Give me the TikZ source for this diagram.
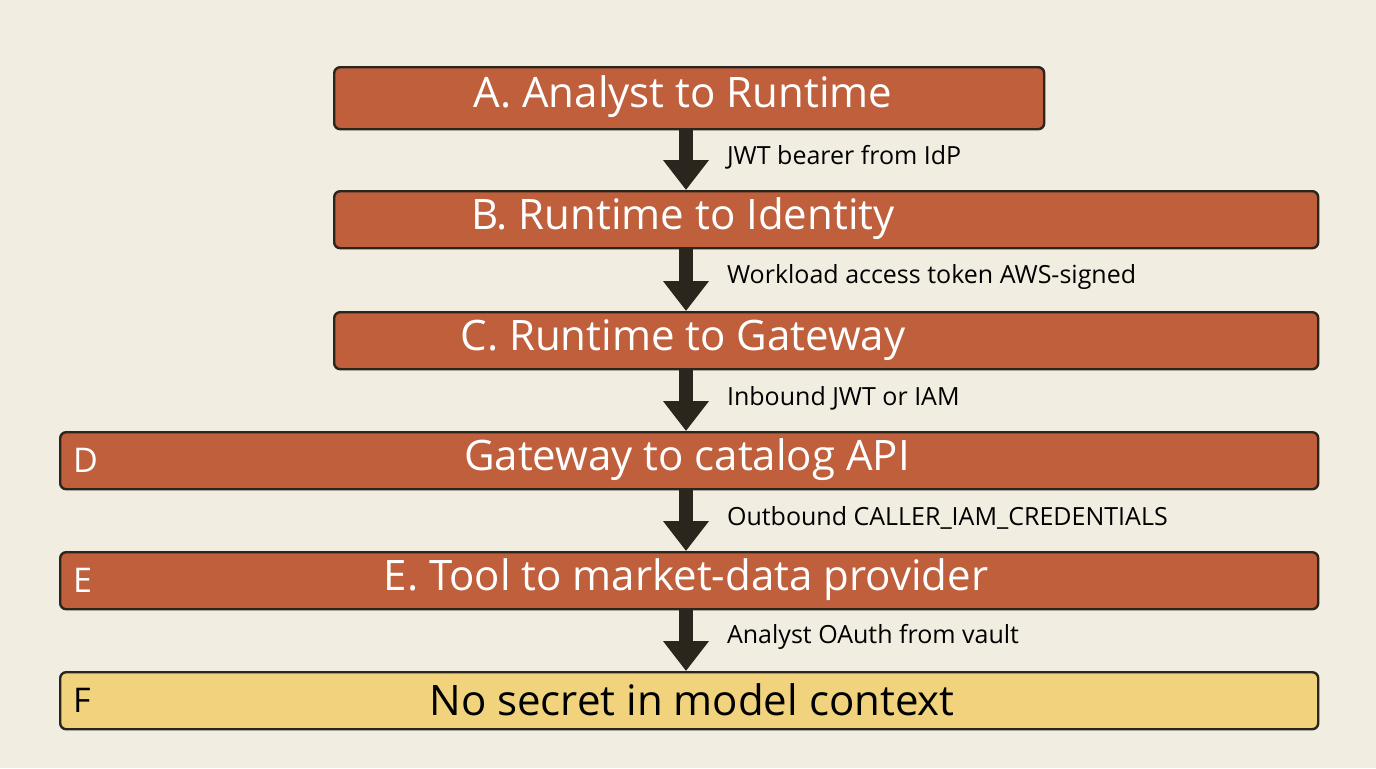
\documentclass[tikz,border=0pt]{standalone}
\usepackage{fontspec}
\setmainfont{Open Sans}
\usetikzlibrary{arrows.meta}
\definecolor{bgcol}{HTML}{F2EDE1}
\definecolor{stepcol}{HTML}{BF5F3C}
\definecolor{lastcol}{HTML}{F0D37C}
\definecolor{arrcol}{HTML}{2A261E}
\tikzset{
  stagebox/.style={draw=arrcol,line width=1.2pt,rounded corners=3pt,fill=stepcol,anchor=north west,inner sep=0pt},
  title/.style={font=\fontsize{21}{24}\selectfont,text=white},
  tag/.style={font=\fontsize{17}{20}\selectfont,text=white,anchor=west},
  hop/.style={font=\fontsize{12.5}{15}\selectfont,text=black,anchor=west},
  flow/.style={draw=arrcol,line width=7pt,-{Triangle[width=22pt,length=15pt]}}
}
\begin{document}
\begin{tikzpicture}[x=0.5pt,y=-0.5pt]
  \useasboundingbox[fill=bgcol] (0,0) rectangle (1376,768);
  \node[stagebox,minimum width=355pt,minimum height=31pt] (a) at (333,66) {};
  \node[stagebox,minimum width=492pt,minimum height=28.5pt] (b) at (333,190) {};
  \node[stagebox,minimum width=492pt,minimum height=28.5pt] (c) at (333,311) {};
  \node[stagebox,minimum width=629pt,minimum height=28.5pt] (d) at (59,431) {};
  \node[stagebox,minimum width=629pt,minimum height=28.5pt] (e) at (59,551) {};
  \node[stagebox,fill=lastcol,minimum width=629pt,minimum height=28.5pt] (f) at (59,671) {};

  \node[title] (ta) at (683,97) {A. Analyst to Runtime};
  \node[title] (tb) at (683,219) {B. Runtime to Identity};
  \node[title] (tc) at (683,340) {C. Runtime to Gateway};
  \node[title] (td) at (687,460) {Gateway to catalog API};
  \node[title] (te) at (686,580) {E. Tool to market-data provider};
  \node[title,text=black] (tf) at (692,700) {No secret in model context};
  \node[tag] (ld) at (66,460) {D};
  \node[tag] (le) at (66,580) {E};
  \node[tag,text=black] (lf) at (66,700) {F};

  \coordinate (a1) at (686,128); \coordinate (b0) at (686,190);
  \coordinate (b1) at (686,247); \coordinate (c0) at (686,311);
  \coordinate (c1) at (686,368); \coordinate (d0) at (686,431);
  \coordinate (d1) at (686,488); \coordinate (e0) at (686,551);
  \coordinate (e1) at (686,608); \coordinate (f0) at (686,671);
  \draw[flow] (a1) -- (b0);
  \draw[flow] (b1) -- (c0);
  \draw[flow] (c1) -- (d0);
  \draw[flow] (d1) -- (e0);
  \draw[flow] (e1) -- (f0);

  \node[hop] (ha) at (720,157) {JWT bearer from IdP};
  \node[hop] (hb) at (720,277) {Workload access token AWS-signed};
  \node[hop] (hc) at (720,398) {Inbound JWT or IAM};
  \node[hop] (hd) at (720,518) {Outbound CALLER\_IAM\_CREDENTIALS};
  \node[hop] (he) at (720,637) {Analyst OAuth from vault};
\end{tikzpicture}
\end{document}
